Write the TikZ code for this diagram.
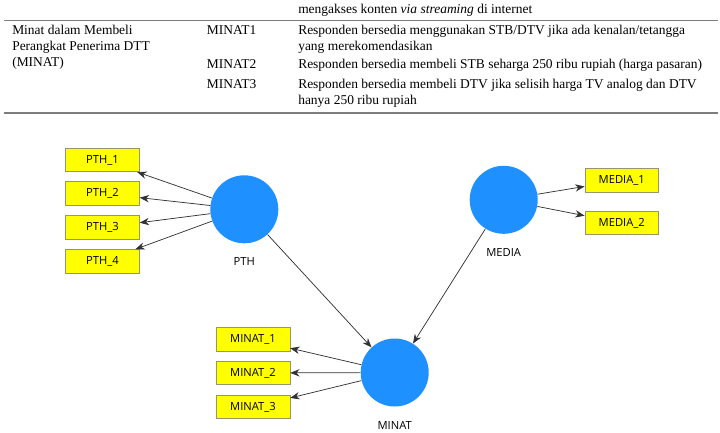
\documentclass[tikz,border=0pt]{standalone}
\usepackage{fontspec}
\setmainfont{Liberation Serif}
\newfontfamily\plsfont{Open Sans}
\usetikzlibrary{arrows.meta}

\definecolor{lvblue}{RGB}{30,144,255}
\definecolor{indyellow}{RGB}{255,255,0}
\definecolor{indborder}{RGB}{150,150,110}
\definecolor{pathgray}{RGB}{50,50,50}
\definecolor{rulegray}{RGB}{125,125,125}

\begin{document}
\begin{tikzpicture}[x=0.75pt,y=0.75pt,yscale=-1,xscale=1,
  latent/.style={circle,fill=lvblue,draw=none,minimum size=51pt,inner sep=0pt,
    label={[font=\plsfont\fontsize{8.4}{10}\selectfont,inner sep=0pt,label distance=10.5pt]below:#1}},
  indicator/.style={rectangle,fill=indyellow,draw=indborder,line width=0.5pt,
    minimum width=55.3pt,minimum height=17.6pt,inner sep=0pt,
    font=\plsfont\fontsize{8.4}{10}\selectfont},
  loading/.style={draw=pathgray,line width=0.55pt,-{Stealth[length=7pt,width=5.5pt]}},
  celltext/.style={anchor=base west,inner sep=0pt,font=\fontsize{10.1}{12}\selectfont}]
\path (0,0) rectangle (720,432); %set diagram to 720 x 432

%Table: rules
\draw [rulegray,line width=0.75pt] (4,20.7) -- (718,20.7) ;
\draw [rulegray,line width=1.5pt] (4,112.7) -- (718,112.7) ;

% Text Node
\node [celltext] (rowtop) at (298,13) {mengakses konten \textit{via streaming} di internet};
% Text Node
\node [celltext] (varA) at (12,34) {Minat dalam Membeli};
\node [celltext] (varB) at (12,50) {Perangkat Penerima DTT};
\node [celltext] (varC) at (12,66) {(MINAT)};
% Text Node
\node [celltext] (codeA) at (206.7,34) {MINAT1};
\node [celltext] (codeB) at (206.7,68) {MINAT2};
\node [celltext] (codeC) at (206.7,88) {MINAT3};
% Text Node
\node [celltext] (descA) at (298,34) {Responden bersedia menggunakan STB/DTV jika ada kenalan/tetangga};
\node [celltext] (descAb) at (298,50) {yang merekomendasikan};
\node [celltext] (descB) at (298,68) {Responden bersedia membeli STB seharga 250 ribu rupiah (harga pasaran)};
\node [celltext] (descC) at (298,88) {Responden bersedia membeli DTV jika selisih harga TV analog dan DTV};
\node [celltext] (descCb) at (298,104) {hanya 250 ribu rupiah};

%Shape: Circle (latent variables)
\node [latent=PTH] (pth) at (244.3,209.3) {};
\node [latent=MINAT] (minat) at (394.7,372.5) {};
\node [latent=MEDIA] (media) at (503.7,199.8) {};

%Shape: Rectangle (indicators)
\node [indicator] (pth1) at (102.5,160) {PTH\_1};
\node [indicator] (pth2) at (102.5,193.5) {PTH\_2};
\node [indicator] (pth3) at (102.5,227.5) {PTH\_3};
\node [indicator] (pth4) at (102.5,261.3) {PTH\_4};
\node [indicator] (minat1) at (253,339.5) {MINAT\_1};
\node [indicator] (minat2) at (253,373) {MINAT\_2};
\node [indicator] (minat3) at (253,407) {MINAT\_3};
\node [indicator] (media1) at (621.8,180.3) {MEDIA\_1};
\node [indicator] (media2) at (621.8,223) {MEDIA\_2};

%Straight Lines [loadings and paths]
\foreach \k in {1,2,3,4} \draw [loading] (pth) -- (pth\k) ;
\foreach \k in {1,2,3} \draw [loading] (minat) -- (minat\k) ;
\foreach \k in {1,2} \draw [loading] (media) -- (media\k) ;
\draw [loading] (pth) -- (minat) ;
\draw [loading] (media) -- (minat) ;

\end{tikzpicture}
\end{document}
